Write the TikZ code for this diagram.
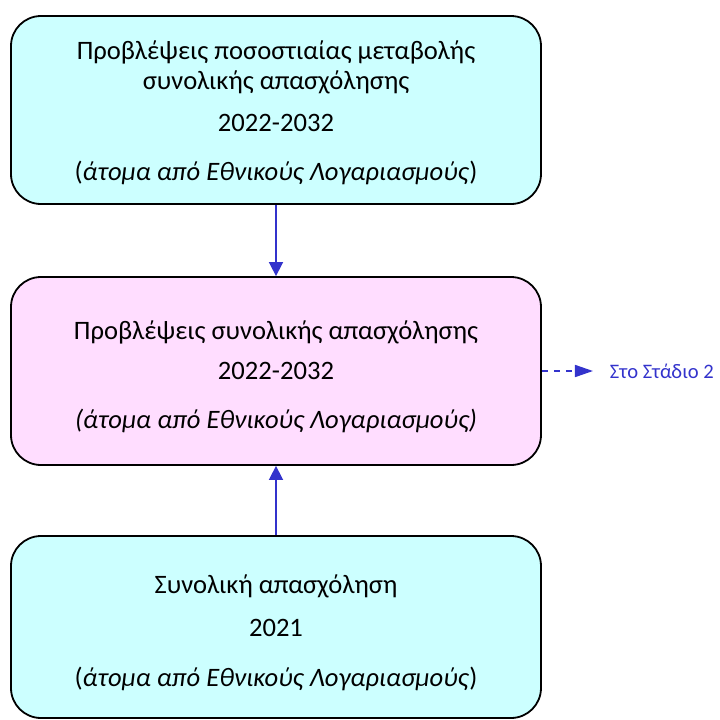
\documentclass[tikz,border=0pt]{standalone}
\usepackage{fontspec}
\setmainfont{Carlito}
\usetikzlibrary{arrows.meta}
\definecolor{boxcyan}{HTML}{CCFFFF}
\definecolor{boxpink}{HTML}{FFDDFF}
\definecolor{arrblue}{HTML}{3333CC}

\begin{document}
\begin{tikzpicture}[x=0.5pt,y=-0.5pt,
  font=\fontsize{13.3}{15}\selectfont,
  stage/.style={draw=black,line width=0.9pt,rounded corners=15pt,
    minimum width=265pt,minimum height=94pt,align=center,inner sep=0pt},
  link/.style={draw=arrblue,line width=0.8pt,-{Triangle[width=7pt,length=7pt]}}]
  \useasboundingbox (0,0) rectangle (720,720);
  % three boxes, top to bottom
  \node[stage,fill=boxcyan] (change) at (276,110)
    {\rule{0pt}{12.5pt}Προβλέψεις ποσοστιαίας μεταβολής\\
     συνολικής απασχόλησης\\[6pt]
     2022-2032\\[9.5pt]
     (\textit{άτομα από Εθνικούς Λογαριασμούς})};
  \node[stage,fill=boxpink] (proj) at (276,371)
    {\rule{0pt}{15pt}Προβλέψεις συνολικής απασχόλησης\\[5pt]
     2022-2032\\[9.5pt]
     \textit{(άτομα από Εθνικούς Λογαριασμούς)}};
  \node[stage,fill=boxcyan,minimum height=91pt] (base) at (276,627)
    {\rule{0pt}{15pt}Συνολική απασχόληση\\[6.5pt]
     2021\\[10pt]
     (\textit{άτομα από Εθνικούς Λογαριασμούς})};
  \node[anchor=west,inner sep=0pt,outer sep=8.5pt,text=arrblue,
    font=\fontsize{10.3}{12}\selectfont] (next) at (593,371) {Στο Στάδιο 2};
  % connectors
  \draw[link] (change) -- (proj);
  \draw[link] (base) -- (proj);
  \draw[link,dashed,-{Triangle[width=6pt,length=9pt]}] (proj) -- (next);
\end{tikzpicture}
\end{document}
